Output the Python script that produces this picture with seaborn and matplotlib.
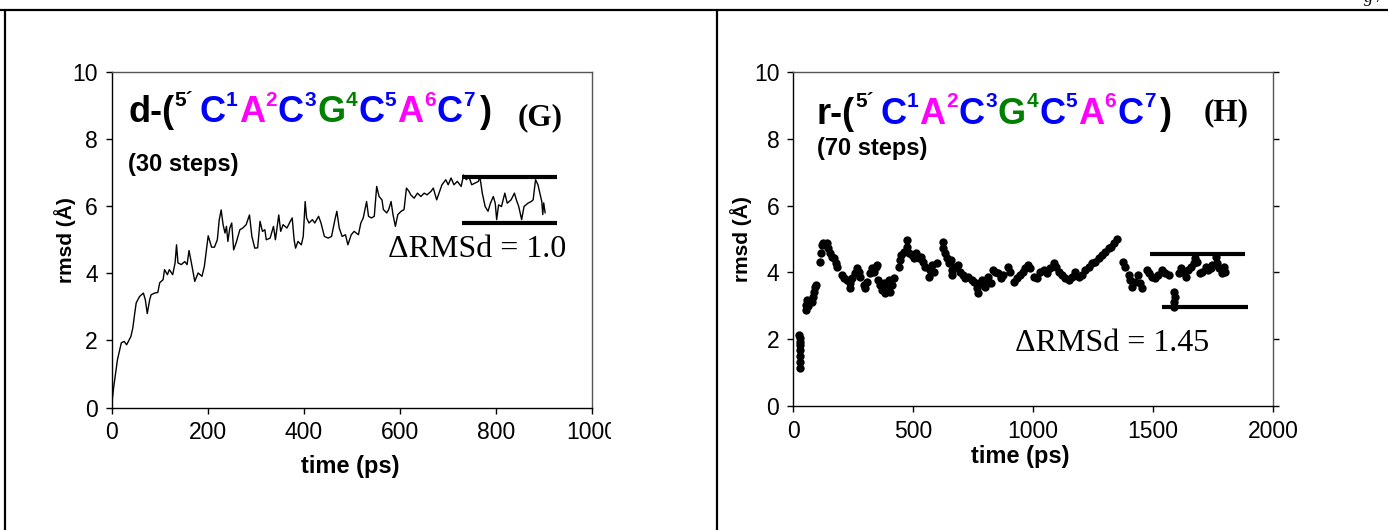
import numpy as np
import pandas as pd
import matplotlib
matplotlib.use("Agg")
import matplotlib.pyplot as plt
import seaborn as sns
from matplotlib.transforms import Bbox, TransformedBbox
from matplotlib.lines import Line2D

# ---------------- data ----------------
g_time = [0, 4, 12, 20, 26, 31, 40, 44, 48, 51, 58, 66, 70, 74, 79, 82, 89, 96, 100, 107,
          110, 116, 120, 127, 132, 135, 138, 145, 152, 157, 161, 166, 173, 180, 188, 193, 201, 208, 214, 220,
          224, 228, 232, 236, 239, 242, 246, 250, 254, 259, 267, 273, 280, 287, 292, 298, 304,
          309, 314, 319, 322, 330, 337, 341, 348, 352, 357, 365, 372, 376, 380, 383, 388, 395, 399, 403, 406,
          411, 418, 423, 431, 436, 443, 451, 458, 465, 469, 474, 480, 487, 492, 499, 505, 514, 519, 524, 531,
          535, 541, 547, 552, 557, 563, 566, 573, 577, 582, 586, 591, 596, 603, 609, 614,
          619, 623, 630, 637, 644, 651, 657, 665, 670, 677, 683, 688, 696, 701, 707, 713, 720, 728, 733, 739,
          744, 750, 757, 764, 767, 772, 778, 784, 789, 795, 799, 802, 806, 812, 819, 824, 832, 839, 843, 848,
          854, 859, 867, 874, 878, 883, 888, 892, 896, 898, 900, 903]
g_rmsd = [0.1, 0.6, 1.43, 1.93, 1.97, 1.87, 2.12, 2.38, 2.82, 3.12, 3.31, 3.41, 3.21, 2.80, 3.21, 3.36, 3.41, 3.43, 3.72, 3.81,
          4.11, 3.96, 4.11, 3.96, 4.31, 4.85, 4.31, 4.26, 4.35, 4.26, 4.68, 4.31, 3.76, 4.01, 3.91, 4.21, 5.12, 4.78, 4.78, 5.00,
          5.60, 5.89, 5.45, 5.20, 5.40, 4.95, 5.35, 5.50, 4.70, 4.90, 5.30, 5.35, 5.45, 5.74, 5.10, 4.75, 4.76,
          5.55, 5.25, 5.30, 5.00, 5.05, 5.40, 5.00, 5.74, 5.25, 5.45, 5.35, 5.55, 5.65, 5.00, 4.75, 4.95, 4.85, 5.10, 6.14, 5.65,
          5.50, 5.60, 5.50, 5.70, 5.50, 5.10, 5.05, 5.10, 5.60, 5.85, 5.35, 5.10, 5.15, 4.85, 5.15, 5.25, 5.15, 5.50, 5.65, 6.14,
          5.70, 5.65, 5.70, 6.59, 6.29, 6.19, 5.90, 5.80, 5.90, 6.14, 5.75, 5.40, 5.75, 5.85, 5.90, 6.54,
          6.45, 6.34, 6.24, 6.39, 6.29, 6.39, 6.34, 6.44, 6.54, 6.19, 6.44, 6.64, 6.79, 6.64, 6.84, 6.64, 6.74, 6.59, 6.93, 6.79,
          6.89, 6.64, 6.69, 6.74, 6.89, 6.39, 5.99, 5.85, 6.09, 6.29, 6.09, 5.60, 6.04, 5.99, 6.39, 6.09, 6.19, 6.39, 6.19, 5.99,
          5.60, 5.99, 6.09, 6.14, 6.19, 6.79, 6.64, 6.39, 6.14, 5.75, 6.10, 5.80]

h_time = [26, 27, 27, 28, 28, 27, 27, 27,
          53, 55, 58, 62, 67,
          78, 82, 88, 92, 96,
          112, 114, 118, 125, 136, 142, 146, 153, 160, 169, 178, 183,
          203, 210, 224, 235, 238, 244, 258, 265, 272, 279, 293, 300, 307, 321, 328, 335, 346, 350, 355, 362,
          369, 378, 383, 390, 397, 404, 411, 421,
          439, 443, 449, 460, 474, 476, 481, 494, 504, 513, 522, 532, 540, 550, 564, 571, 578, 588, 599,
          624, 626, 633, 640, 651, 656, 660, 663, 674, 688, 694, 706, 715, 729, 743, 753, 764, 771, 778, 785,
          799, 806, 813, 826, 831, 840, 854, 864, 875, 896, 903, 919, 931, 944, 956, 965, 979,
          988, 1002, 1016, 1029, 1043, 1057, 1071, 1085, 1094, 1106, 1120, 1134, 1148, 1161, 1175, 1189, 1203,
          1217, 1231, 1245, 1259, 1272, 1286, 1300, 1314, 1325, 1335, 1349,
          1376, 1383, 1397, 1404, 1411, 1425, 1436, 1446, 1453, 1474, 1481, 1495, 1508, 1522, 1536, 1550, 1567,
          1585, 1589, 1587, 1588, 1607, 1614, 1624, 1635, 1646, 1656, 1669, 1676, 1683, 1693, 1704, 1718, 1729,
          1739, 1746, 1760, 1767, 1774, 1788, 1795, 1801]
h_rmsd = [2.13, 2.03, 1.93, 1.83, 1.68, 1.50, 1.33, 1.13,
          2.87, 3.02, 3.17, 3.00, 3.12,
          3.12, 3.27, 3.42, 3.55, 3.62,
          4.32, 4.57, 4.82, 4.87, 4.82, 4.89, 4.72, 4.57, 4.47, 4.42, 4.27, 4.17,
          3.92, 3.82, 3.77, 3.67, 3.52, 3.82, 3.97, 4.12, 4.02, 3.87, 3.62, 3.52, 3.72, 3.97, 4.12, 4.02, 4.17, 4.22, 3.77, 3.62,
          3.47, 3.67, 3.37, 3.52, 3.77, 3.42, 3.62, 3.82,
          4.17, 4.37, 4.52, 4.62, 4.97, 4.77, 4.57, 4.52, 4.42, 4.57, 4.42, 4.47, 4.32, 4.17, 3.87, 4.07, 4.22, 4.02, 4.27,
          4.92, 4.72, 4.57, 4.42, 4.27, 4.37, 4.07, 3.92, 4.17, 4.22, 4.02, 3.92, 3.82, 3.87, 3.77, 3.72, 3.52, 3.37, 3.67, 3.77,
          3.57, 3.67, 3.87, 3.67, 4.07, 4.02, 3.97, 3.82, 3.92, 4.17, 4.02, 3.72, 3.82, 3.92, 4.02, 4.12, 4.22,
          4.12, 3.87, 3.82, 4.02, 4.07, 3.97, 4.12, 4.27, 4.17, 4.02, 3.92, 3.82, 3.77, 3.87, 4.02, 3.87, 3.92,
          4.07, 4.17, 4.27, 4.32, 4.42, 4.52, 4.62, 4.72, 4.77, 4.87, 5.00,
          4.32, 4.17, 3.92, 3.77, 3.57, 3.72, 3.92, 3.67, 3.52, 4.07, 3.97, 3.87, 3.82, 3.92, 4.07, 3.97, 3.92,
          3.42, 3.27, 3.12, 2.97, 3.97, 4.12, 4.02, 3.87, 4.07, 4.17, 4.27, 4.42, 4.32, 3.97, 4.02, 4.17, 4.07,
          4.12, 4.22, 4.47, 4.27, 4.12, 3.97, 4.17, 4.02]

# ΔRMSd bracket lines
g_band_x = [729, 927]
g_band_y = [6.87, 5.50]
h_band_top_x = [1487, 1883]
h_band_top_y = 4.54
h_band_bot_x = [1537, 1896]
h_band_bot_y = 2.95

g_xticks = [0, 200, 400, 600, 800, 1000]
h_xticks = [0, 500, 1000, 1500, 2000]
y_ticks = [0, 2, 4, 6, 8, 10]

BLUE, MAG, GRN, BLK = '#0000ff', '#ff00ff', '#008000', '#000000'
seq_pieces = [("5\u00b4", BLK, True), ("C", BLUE, False), ("1", BLUE, True), ("A", MAG, False), ("2", MAG, True),
              ("C", BLUE, False), ("3", BLUE, True), ("G", GRN, False), ("4", GRN, True),
              ("C", BLUE, False), ("5", BLUE, True), ("A", MAG, False), ("6", MAG, True),
              ("C", BLUE, False), ("7", BLUE, True), (")", BLK, False)]

# ---------------- style ----------------
sns.set_theme(style="ticks")
plt.rcParams['font.family'] = ['Liberation Sans', 'DejaVu Sans']
plt.rcParams['text.color'] = 'black'
plt.rcParams['axes.labelcolor'] = 'black'
plt.rcParams['xtick.color'] = 'black'
plt.rcParams['ytick.color'] = 'black'

fig = plt.figure(figsize=(13.88, 5.30), dpi=100)
fig.patch.set_facecolor('white')
axL = fig.add_axes([0.0805, 0.2311, 0.3458, 0.633])
axR = fig.add_axes([0.5715, 0.234, 0.3458, 0.630])

dfg = pd.DataFrame({"time": g_time, "rmsd": g_rmsd})
dfh = pd.DataFrame({"time": h_time, "rmsd": h_rmsd})

sns.lineplot(data=dfg, x="time", y="rmsd", ax=axL, color='black', lw=1.0,
             sort=False, estimator=None)
sns.scatterplot(data=dfh, x="time", y="rmsd", ax=axR, color='black', s=36,
                edgecolor='black', linewidth=0)

axL.plot(g_band_x, [g_band_y[0]] * 2, color='black', lw=3, solid_capstyle='butt')
axL.plot(g_band_x, [g_band_y[1]] * 2, color='black', lw=3, solid_capstyle='butt')
axR.plot(h_band_top_x, [h_band_top_y] * 2, color='black', lw=3, solid_capstyle='butt')
axR.plot(h_band_bot_x, [h_band_bot_y] * 2, color='black', lw=3, solid_capstyle='butt')

for ax, xt, xmax in [(axL, g_xticks, 1000), (axR, h_xticks, 2000)]:
    ax.set_xlim(0, xmax)
    ax.set_ylim(0, 10)
    ax.set_xticks(xt)
    ax.set_yticks(y_ticks)
    ax.set_xticklabels([str(v) for v in xt])
    ax.set_yticklabels([str(v) for v in y_ticks])
    ax.tick_params(axis='both', which='major', direction='out', length=4, width=1,
                   color='black', labelcolor='black', labelsize=16.5, pad=6)
    for s in ['left', 'bottom']:
        ax.spines[s].set_color('black')
        ax.spines[s].set_linewidth(1.0)
    for s in ['top', 'right']:
        ax.spines[s].set_visible(True)
        ax.spines[s].set_color('#555555')
        ax.spines[s].set_linewidth(1.0)
    ax.set_xlabel("time (ps)", fontsize=17, fontweight='bold', color='black')
    ax.set_ylabel("rmsd (\u00c5)", fontsize=15, fontweight='bold', color='black')
    ax.grid(False)

axR.tick_params(axis='y', right=True, labelright=False)
axL.xaxis.set_label_coords(0.496, -0.142)
axR.xaxis.set_label_coords(0.474, -0.117)
axL.yaxis.set_label_coords(-0.075, 0.5)
axR.yaxis.set_label_coords(-0.085, 0.5)

# the "1000" label is cut at the chart edge in the reference
clip = TransformedBbox(Bbox([[0, 0], [611 / 1388, 1]]), fig.transFigure)
for lab in axL.get_xticklabels():
    lab.set_clip_box(clip)
    lab.set_clip_on(True)


def seq_title(ax, x, y, prefix, main_size=26, sup_size=15):
    first = ax.text(x, y, prefix, transform=ax.transAxes, fontsize=main_size,
                    fontweight='bold', color='black', va='baseline', ha='left')
    prev = first
    last_main = first
    sup_off = 0.682 * main_size - 0.212 * sup_size
    for txt, col, sup in seq_pieces:
        if sup:
            t = ax.annotate(txt, xy=(1, 0), xycoords=(prev, last_main), xytext=(0.3, sup_off),
                            textcoords='offset points', fontsize=sup_size, fontweight='bold',
                            color=col, va='bottom', ha='left')
        else:
            if prev.get_text() == "5\u00b4":
                gap = 4.5
            elif txt == ")":
                gap = 3.5
            else:
                gap = 0.8
            t = ax.annotate(txt, xy=(1, 0), xycoords=(prev, last_main), xytext=(gap, 0),
                            textcoords='offset points', fontsize=main_size, fontweight='bold',
                            color=col, va='bottom', ha='left')
            last_main = t
        prev = t


seq_title(axL, 0.034, 0.851, "d-(")
seq_title(axR, 0.049, 0.846, "r-(")

serif = ['Liberation Serif', 'DejaVu Serif']
axL.text(0.846, 0.842, "(G)", transform=axL.transAxes, fontsize=22.5, fontweight='bold',
         family=serif, va='baseline', ha='left')
axR.text(0.854, 0.856, "(H)", transform=axR.transAxes, fontsize=22.5, fontweight='bold',
         family=serif, va='baseline', ha='left')
axL.text(0.034, 0.704, "(30 steps)", transform=axL.transAxes, fontsize=17, fontweight='bold',
         va='baseline', ha='left')
axR.text(0.049, 0.751, "(70 steps)", transform=axR.transAxes, fontsize=17, fontweight='bold',
         va='baseline', ha='left')
axL.text(0.576, 0.449, "\u0394RMSd = 1.0", transform=axL.transAxes, fontsize=23,
         family=serif, va='baseline', ha='left')
axR.text(0.462, 0.166, "\u0394RMSd = 1.45", transform=axR.transAxes, fontsize=23,
         family=serif, va='baseline', ha='left')

# page frame lines
ytop = 1 - 10 / 530
fig.add_artist(Line2D([0, 1], [ytop, ytop], transform=fig.transFigure, color='black', lw=1.6))
fig.add_artist(Line2D([5 / 1388, 5 / 1388], [0, ytop], transform=fig.transFigure, color='black', lw=1.6))
fig.add_artist(Line2D([717 / 1388, 717 / 1388], [0, ytop], transform=fig.transFigure, color='black', lw=1.6))
fig.text(1364 / 1388, 1 - 2 / 530, "g /", fontsize=13, style='italic', family=serif,
         va='baseline', ha='left')

fig.savefig("out.png", dpi=100, facecolor='white')
